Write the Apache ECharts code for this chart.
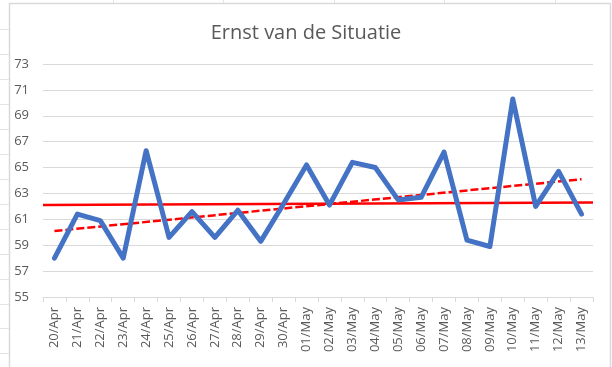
<!DOCTYPE html>
<html>
<head>
<meta charset="utf-8">
<script src="https://cdn.jsdelivr.net/npm/echarts@6/dist/echarts.min.js"></script>
<style>
html,body{margin:0;padding:0;background:#fff;}
#chart{width:612px;height:367px;}
</style>
</head>
<body>
<div id="chart"></div>
<script>
var categories = ['20/Apr','21/Apr','22/Apr','23/Apr','24/Apr','25/Apr','26/Apr','27/Apr','28/Apr','29/Apr','30/Apr',
  '01/May','02/May','03/May','04/May','05/May','06/May','07/May','08/May','09/May','10/May','11/May','12/May','13/May'];
var values = [58.0,61.4,60.9,58.0,66.3,59.6,61.6,59.6,61.7,59.3,62.2,
  65.2,62.1,65.4,65.0,62.5,62.7,66.2,59.4,58.9,70.3,62.0,64.7,61.4];
var meanLine = [62.1, 62.3];
var trendStart = 60.1;
var trendEnd = 64.1;
var yTicks = [55,57,59,61,63,65,67,69,71,73];

var chart = echarts.init(document.getElementById('chart'), null, {renderer:'canvas'});

var graphics = [{
  type:'rect', shape:{x:9.5,y:3.5,width:601,height:400}, silent:true,
  style:{fill:'none', stroke:'#d9d9d9', lineWidth:1.5}
}];
[29,54,79,104,129,154,179,204,229,254,279,304,328,353].forEach(function(y){
  graphics.push({type:'line', shape:{x1:0,y1:y+0.5,x2:9,y2:y+0.5}, silent:true, style:{stroke:'#e3e3e3', lineWidth:1}});
});
[113,223,334,444,555].forEach(function(x){
  graphics.push({type:'line', shape:{x1:x+0.5,y1:0,x2:x+0.5,y2:3}, silent:true, style:{stroke:'#e3e3e3', lineWidth:1}});
});

var option = {
  animation:false,
  backgroundColor:'#ffffff',
  title:{
    text:'Ernst van de Situatie',
    left:'center', top:18,
    textStyle:{fontFamily:'Open Sans', fontSize:20, fontWeight:'normal', color:'#595959'}
  },
  graphic:graphics,
  grid:{left:43, right:19, top:64, bottom:70, containLabel:false},
  xAxis:[{
    type:'category', data:categories, boundaryGap:true,
    axisLine:{show:true, lineStyle:{color:'#d9d9d9', width:1}},
    axisTick:{show:true, length:5, interval:0, lineStyle:{color:'#d9d9d9'}},
    axisLabel:{interval:0, rotate:90, margin:10, fontFamily:'Open Sans', fontSize:13, color:'#595959'},
    splitLine:{show:false}
  },{
    type:'category', data:['start','end'], boundaryGap:false, show:false, position:'bottom'
  }],
  yAxis:{
    type:'value', min:yTicks[0], max:yTicks[yTicks.length-1], interval:2,
    axisLine:{show:false}, axisTick:{show:false},
    axisLabel:{margin:14, fontFamily:'Open Sans', fontSize:13, color:'#595959'},
    splitLine:{lineStyle:{color:'#d9d9d9', width:1}}
  },
  series:[{
    type:'line', xAxisIndex:1, data:meanLine, symbol:'none',
    lineStyle:{color:'#ff0000', width:2.5}, z:3
  },{
    type:'line', data:[[categories[0], trendStart],[categories[categories.length-1], trendEnd]], symbol:'none',
    lineStyle:{color:'#ff0000', width:2.5, type:[8,3]}, z:4
  },{
    type:'line', data:values, symbol:'none',
    lineStyle:{color:'#4472c4', width:5, join:'round', cap:'round'}, z:5
  }]
};
chart.setOption(option);
</script>
</body>
</html>
